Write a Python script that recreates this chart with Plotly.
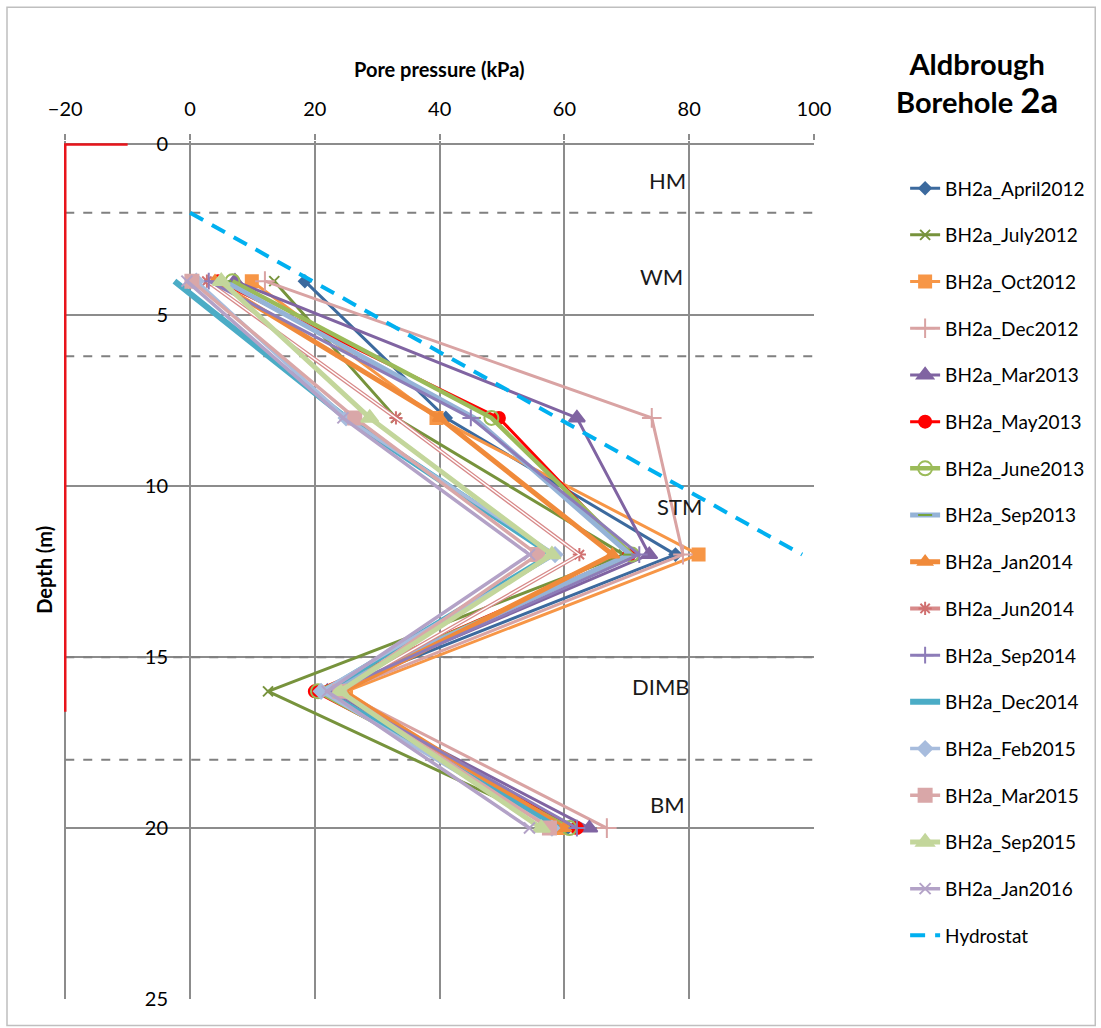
import plotly.graph_objects as go

depths = [4, 8, 12, 16, 20]

series_names = [
    "BH2a_April2012", "BH2a_July2012", "BH2a_Oct2012", "BH2a_Dec2012",
    "BH2a_Mar2013", "BH2a_May2013", "BH2a_June2013", "BH2a_Sep2013",
    "BH2a_Jan2014", "BH2a_Jun2014", "BH2a_Sep2014", "BH2a_Dec2014",
    "BH2a_Feb2015", "BH2a_Mar2015", "BH2a_Sep2015", "BH2a_Jan2016",
]

april2012 = [18.4, 41.0, 77.8, 22.0, 60.5]
july2012 = [13.5, 33.0, 69.5, 12.5, 59.5]
oct2012 = [9.9, 39.5, 81.5, 25.0, 59.0]
dec2012 = [12.0, 74.0, 79.0, 24.0, 66.8]
mar2013 = [7.2, 62.0, 73.6, 22.0, 64.0]
may2013 = [4.5, 49.5, 70.4, 20.0, 62.0]
june2013 = [6.8, 48.3, 70.8, 20.5, 60.8]
sep2013 = [5.5, 45.5, 70.5, 21.5, 60.0]
jan2014 = [4.0, 40.0, 67.7, 24.5, 60.0]
jun2014 = [2.7, 33.0, 62.4, 24.0, 58.0]
sep2014 = [3.0, 45.0, 72.0, 23.0, 62.0]
dec2014 = [-2.5, 25.0, 58.0, 21.5, 59.0]
feb2015 = [1.0, 25.0, 58.5, 21.0, 58.0]
mar2015 = [0.3, 26.4, 55.7, 24.0, 57.6]
sep2015 = [5.0, 28.8, 58.0, 24.0, 56.3]
jan2016 = [-0.5, 24.5, 54.4, 22.0, 54.4]

hydro_pressure = [0.0, 98.1]
hydro_depth = [2.0, 12.0]

red_x = [-10, -20, -20]
red_y = [0, 0, 16.6]

layer_bounds = [2.0, 6.2, 15.0, 18.0]
layer_names = ["HM", "WM", "STM", "DIMB", "BM"]
layer_label_x = [76.5, 75.5, 78.5, 75.5, 76.5]
layer_label_y = [1.05, 3.85, 10.6, 15.85, 19.3]

x_ticks = [-20, 0, 20, 40, 60, 80, 100]
y_ticks = [0, 5, 10, 15, 20, 25]

all_values = [april2012, july2012, oct2012, dec2012, mar2013, may2013, june2013,
              sep2013, jan2014, jun2014, sep2014, dec2014, feb2015, mar2015,
              sep2015, jan2016]

styles = [
    dict(color="#3C6A9E", width=3, symbol="diamond", msize=9, mcolor="#3C6A9E"),
    dict(color="#77933C", width=3, symbol="x-thin-open", msize=10, mcolor="#77933C"),
    dict(color="#F79646", width=3, symbol="square", msize=12, mcolor="#F79646"),
    dict(color="#D9A3A3", width=3, symbol="cross-thin-open", msize=14, mcolor="#D9A3A3"),
    dict(color="#8064A2", width=3, symbol="triangle-up", msize=14, mcolor="#8064A2"),
    dict(color="#FF0000", width=3, symbol="circle", msize=12, mcolor="#FF0000"),
    dict(color="#9BBB59", width=4.5, symbol="circle-open", msize=14, mcolor="#9BBB59"),
    dict(color="#95B3D7", width=5, symbol="line-ew-open", msize=10, mcolor="#77A33C"),
    dict(color="#F08A3A", width=5, symbol="triangle-up", msize=12, mcolor="#F08A3A"),
    dict(color="#D88A8A", width=4, symbol="asterisk-open", msize=11, mcolor="#D07070"),
    dict(color="#8D7CB8", width=3, symbol="cross-thin-open", msize=12, mcolor="#8D7CB8"),
    dict(color="#4BACC6", width=6, symbol=None, msize=0, mcolor="#4BACC6"),
    dict(color="#A7BCDD", width=3.5, symbol="diamond", msize=11, mcolor="#A7BCDD"),
    dict(color="#D9A7A8", width=3.5, symbol="square", msize=13, mcolor="#D9A7A8"),
    dict(color="#C3D69B", width=5, symbol="triangle-up", msize=15, mcolor="#C3D69B"),
    dict(color="#B3A2C7", width=3.5, symbol="x-thin-open", msize=11, mcolor="#B3A2C7"),
]

FONT = "Lato"
GRID = "#8C8C8C"
fig = go.Figure()

# layer boundaries
for d in layer_bounds:
    fig.add_trace(go.Scatter(x=[x_ticks[0], x_ticks[-1]], y=[d, d], mode="lines",
                             line=dict(color="#808080", width=2, dash="dash"),
                             showlegend=False, hoverinfo="skip"))

# red reference line
fig.add_trace(go.Scatter(x=red_x, y=red_y, mode="lines",
                         line=dict(color="#E8141B", width=2.5),
                         showlegend=False, hoverinfo="skip"))

for i, (name, vals, st) in enumerate(zip(series_names, all_values, styles)):
    if st["symbol"] is None:
        mode = "lines"
        marker = None
    else:
        mode = "lines+markers"
        marker = dict(symbol=st["symbol"], size=st["msize"], color=st["mcolor"],
                      line=dict(color=st["mcolor"], width=2))
    fig.add_trace(go.Scatter(x=vals, y=depths, mode=mode, name=name,
                             line=dict(color=st["color"], width=st["width"]),
                             marker=marker, legendgroup=name))
    if name == "BH2a_Jun2014":
        fig.add_trace(go.Scatter(x=vals, y=depths, mode="lines",
                                 line=dict(color="white", width=1.4),
                                 showlegend=False, legendgroup=name, hoverinfo="skip"))

fig.add_trace(go.Scatter(x=hydro_pressure, y=hydro_depth, mode="lines", name="Hydrostat",
                         line=dict(color="#00B0F0", width=4, dash="15px,10px"),
                         legendgroup="Hydrostat"))

for nm, lx, ly in zip(layer_names, layer_label_x, layer_label_y):
    fig.add_annotation(x=lx, y=ly, text=nm, showarrow=False,
                       font=dict(size=22, color="#1a1a1a", family=FONT))

# titles
fig.add_annotation(xref="paper", yref="paper", x=0.5, y=1.084, xanchor="center", yanchor="middle",
                   text="<b>Pore pressure (kPa)</b>",
                   showarrow=False, font=dict(size=20, color="black", family=FONT))
fig.add_annotation(xref="paper", yref="paper", x=-0.027, y=0.5, xanchor="center", yanchor="middle",
                   text="<b>Depth (m)</b>",
                   textangle=-90, showarrow=False, font=dict(size=20, color="black", family=FONT))
fig.add_annotation(xref="paper", yref="paper", x=1.217, y=1.068, xanchor="center", yanchor="middle",
                   text="<b>Aldbrough</b><br><b>Borehole <span style='font-size:35px'>2a</span></b>",
                   showarrow=False, align="center", font=dict(size=29, color="black", family=FONT))

# outer frame
fig.add_shape(type="rect", xref="paper", yref="paper", x0=-0.076, x1=1.375, y0=-0.031, y1=1.156,
              line=dict(color="#BFBFBF", width=1.5), fillcolor="rgba(0,0,0,0)")

fig.update_layout(
    width=1101, height=1028,
    margin=dict(l=64, r=286, t=141, b=29),
    paper_bgcolor="white", plot_bgcolor="white",
    font=dict(family=FONT, size=19, color="black"),
    legend=dict(x=1.12, y=0.967, xanchor="left", yanchor="top",
                font=dict(size=19, family=FONT), tracegroupgap=19,
                bgcolor="rgba(0,0,0,0)"),
    xaxis=dict(range=[x_ticks[0] - 0.2, x_ticks[-1]], side="top", tickvals=x_ticks,
               showgrid=True, gridcolor=GRID, gridwidth=1.5,
               ticks="outside", ticklen=6, tickcolor=GRID, tickwidth=1.5,
               tickfont=dict(size=20, family=FONT), ticklabelstandoff=10,
               zeroline=False, showline=False),
    yaxis=dict(range=[y_ticks[-1], y_ticks[0] - 0.1], tickvals=y_ticks, anchor="free",
               position=(0 - x_ticks[0] + 0.2) / (x_ticks[-1] - x_ticks[0] + 0.2),
               showgrid=True, gridcolor=GRID, gridwidth=1.5,
               ticks="", tickfont=dict(size=20, family=FONT), ticklabelstandoff=22,
               zeroline=False, showline=False),
)

fig.write_html("out.html")
